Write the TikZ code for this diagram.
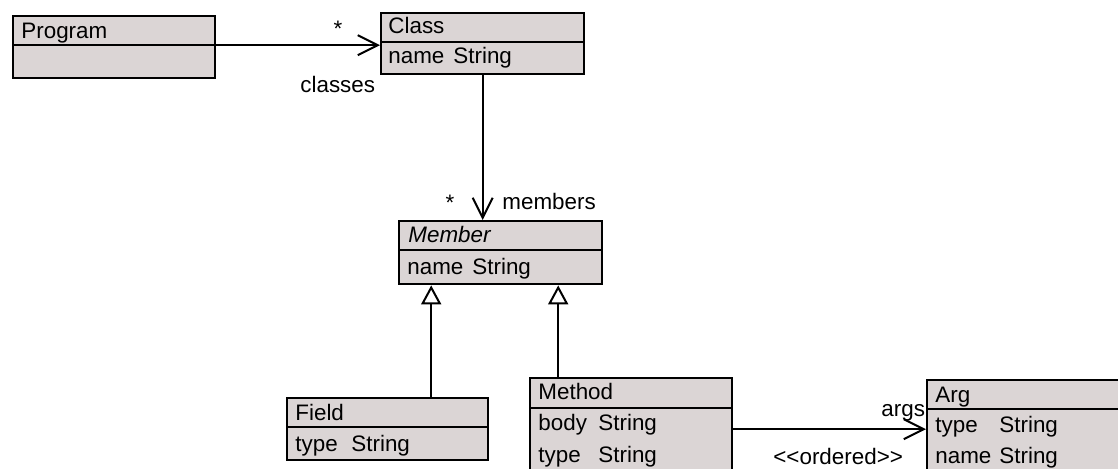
\documentclass[tikz,border=0pt]{standalone}
\usepackage{fontspec}
\setmainfont{Liberation Sans}
\usetikzlibrary{arrows.meta}
\definecolor{boxfill}{RGB}{219,213,213}
\tikzset{
  classbox/.style={draw=black, line width=1.2pt, fill=boxfill, rectangle, inner sep=0pt, anchor=north west},
  divider/.style={draw=black, line width=0.8pt},
  txt/.style={inner sep=0pt, anchor=base west, font=\fontsize{11.2}{13}\selectfont},
  lbl/.style={inner sep=0pt, anchor=base west, font=\fontsize{11.2}{13}\selectfont},
  assoc/.style={draw=black, line width=1pt, -{Straight Barb[length=10pt,width=10pt,line width=1pt]}},
  gener/.style={draw=black, line width=1pt, -{Triangle[open,length=9.5pt,width=10pt,line width=1pt,fill=white]}}
}
\begin{document}
\begin{tikzpicture}[x=0.5pt,y=-0.5pt]
\useasboundingbox (0,0) rectangle (1118,469);
\clip (0,0) rectangle (1118,469);
% Program
\node[classbox, minimum width=101pt, minimum height=31pt] (prog) at (12,15) {};
\draw[divider] (12,45) -- (214,45);
\node[txt] (progname) at (21,39) {Program};
% Class
\node[classbox, minimum width=101.5pt, minimum height=30.5pt] (cls) at (380,12) {};
\draw[divider] (380,42) -- (583,42);
\node[txt] (clsname) at (388,34) {Class};
\node[txt] (clsa1) at (388,64) {name};
\node[txt] (clst1) at (453,64) {String};
% Member
\node[classbox, minimum width=101.5pt, minimum height=31.5pt] (mem) at (398,220) {};
\draw[divider] (398,250) -- (601,250);
\node[txt, font=\fontsize{11.2}{13}\selectfont\itshape] (memname) at (408,243) {Member};
\node[txt] (mema1) at (407,275) {name};
\node[txt] (memt1) at (472,275) {String};
% Field
\node[classbox, minimum width=100.5pt, minimum height=31pt] (fld) at (286,397) {};
\draw[divider] (286,427) -- (487,427);
\node[txt] (fldname) at (295,421) {Field};
\node[txt] (flda1) at (295,452) {type};
\node[txt] (fldt1) at (351,452) {String};
% Method
\node[classbox, minimum width=101pt, minimum height=48.5pt] (meth) at (529,377) {};
\draw[divider] (529,408) -- (731,408);
\node[txt] (methname) at (538,400) {Method};
\node[txt] (metha1) at (538,431) {body};
\node[txt] (metht1) at (598,431) {String};
\node[txt] (metha2) at (538,463) {type};
\node[txt] (metht2) at (598,463) {String};
% Arg
\node[classbox, minimum width=105pt, minimum height=48pt] (arg) at (926,379) {};
\draw[divider] (926,409) -- (1140,409);
\node[txt] (argname) at (935,403) {Arg};
\node[txt] (arga1) at (935,433) {type};
\node[txt] (argt1) at (999,433) {String};
\node[txt] (arga2) at (935,464) {name};
\node[txt] (argt2) at (999,464) {String};
% connectors
\draw[assoc] ([yshift=1pt]prog.east) -- ([yshift=1pt]prog.east -| cls.west);
\draw[assoc] (cls.south) -- (cls.south |- mem.north);
\draw[gener] ([xshift=21.75pt]fld.north) -- ([xshift=21.75pt]fld.north |- mem.south);
\draw[gener] ([xshift=-36.5pt]meth.north) -- ([xshift=-36.5pt]meth.north |- mem.south);
\draw[assoc] ([yshift=-1.25pt]meth.east) -- ([yshift=-1.25pt]meth.east -| arg.west);
% labels
\node[lbl, anchor=base] (l1) at (338,37) {*};
\node[lbl] (l2) at (300,93) {classes};
\node[lbl, anchor=base] (l3) at (450,211) {*};
\node[lbl] (l4) at (502,210) {members};
\node[lbl] (l5) at (881,417) {args};
\node[lbl] (l6) at (773,465) {<{}<ordered>{}>};
\end{tikzpicture}
\end{document}
